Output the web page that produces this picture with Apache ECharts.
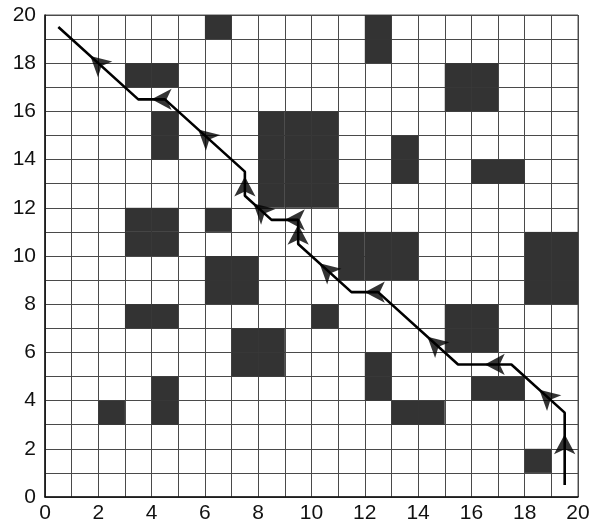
<!DOCTYPE html>
<html><head><meta charset="utf-8">
<script src="https://cdn.jsdelivr.net/npm/echarts@6/dist/echarts.min.js"></script>
<style>html,body{margin:0;padding:0;background:#fff}#c{width:606px;height:530px}</style>
</head><body><div id="c"></div>
<script>
// Obstacle cells: lower-left corner [x, y] of each 1x1 cell
const obstacles = [
  [6,19],[12,19],[12,18],
  [3,17],[4,17],[15,17],[16,17],[15,16],[16,16],
  [4,15],[4,14],
  [8,15],[9,15],[10,15],[8,14],[9,14],[10,14],[8,13],[9,13],[10,13],[8,12],[9,12],[10,12],
  [13,14],[13,13],[16,13],[17,13],
  [3,11],[4,11],[3,10],[4,10],[6,11],
  [11,10],[12,10],[13,10],[11,9],[12,9],[13,9],
  [18,10],[19,10],[18,9],[19,9],[18,8],[19,8],
  [6,9],[7,9],[6,8],[7,8],
  [3,7],[4,7],[10,7],[15,7],[16,7],[15,6],[16,6],
  [7,6],[8,6],[7,5],[8,5],
  [12,5],[12,4],[16,4],[17,4],[4,4],[4,3],[2,3],[13,3],[14,3],
  [18,1]
];
// Path points (travel order)
const pathPts = [
  [19.5,0.5],[19.5,3.5],[17.5,5.5],[15.5,5.5],[12.5,8.5],[11.5,8.5],[9.5,10.5],
  [9.5,11.5],[8.5,11.5],[7.5,12.5],[7.5,13.5],[4.5,16.5],[3.5,16.5],[0.5,19.5]
];
// Arrowhead tips [x, y, dirX, dirY]
const arrows = [
  [19.5,2.6,0,1],[18.55,4.45,-1,1],[16.5,5.5,-1,0],[14.35,6.65,-1,1],
  [12.0,8.5,-1,0],[10.3,9.7,-1,1],[9.5,11.3,0,1],[9.0,11.5,-1,0],
  [7.82,12.18,-1,1],[7.5,13.3,0,1],[5.75,15.25,-1,1],[4.0,16.5,-1,0],[1.7,18.3,-1,1]
];
const ticks = [0,2,4,6,8,10,12,14,16,18,20];

const ARW = [16, 20];
const chart = echarts.init(document.getElementById('c'));
const lab = {fontFamily:'Liberation Sans, Arial, sans-serif', fontSize:21, color:'#111'};
function axis(isX){
  return {
    type:'value', min:0, max:20, interval:1,
    axisLine:{show:true, onZero:false, lineStyle:{color:'#111', width:1.5}},
    axisTick:{show:false},
    splitLine:{show:true, lineStyle:{color:'#4a4a4a', width:1}},
    axisLabel:Object.assign({margin: isX?6:9, formatter:v=>ticks.indexOf(v)>=0?String(v):''}, lab)
  };
}
const base = {
  animation:false,
  grid:{left:45, right:28, top:15, bottom:33, show:true, borderColor:'#555', borderWidth:1},
  xAxis:axis(true), yAxis:axis(false),
  series:[
    {type:'custom', data:obstacles, z:1,
     renderItem:function(params, api){
       const p0 = api.coord([api.value(0), api.value(1)+1]);
       const p1 = api.coord([api.value(0)+1, api.value(1)]);
       return {type:'rect', shape:{x:p0[0], y:p0[1], width:p1[0]-p0[0], height:p1[1]-p0[1]},
               style:{fill:'#333'}};
     }},
    {type:'line', data:pathPts, showSymbol:false, symbol:'none', z:5,
     lineStyle:{color:'#000', width:2.6}},
    {type:'scatter', data:arrows.map(a=>[a[0],a[1]]), symbol:'arrow', symbolSize:ARW, z:6,
     itemStyle:{color:'#000'}}
  ]
};
chart.setOption(base);
// rotate each arrowhead along its segment (tip sits at the listed point)
const arrowData = arrows.map(a=>{
  const p = chart.convertToPixel({gridIndex:0},[a[0],a[1]]);
  const q = chart.convertToPixel({gridIndex:0},[a[0]+a[2],a[1]+a[3]]);
  const px=q[0]-p[0], py=q[1]-p[1];
  return {value:[a[0],a[1]], symbolRotate:Math.atan2(-px,-py)*180/Math.PI};
});
chart.setOption({series:[{},{},{data:arrowData}]});
</script></body></html>
